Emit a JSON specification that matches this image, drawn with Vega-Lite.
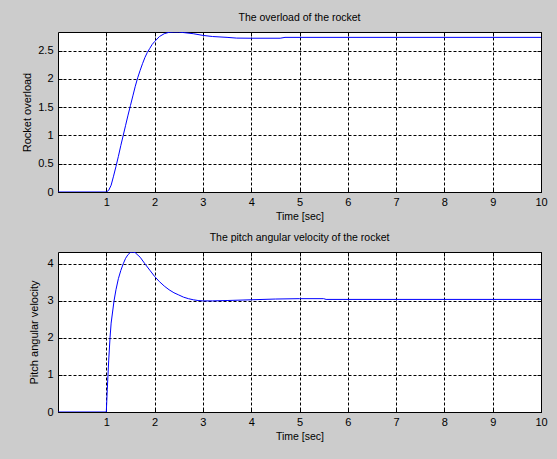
{
  "$schema": "https://vega.github.io/schema/vega-lite/v6.json",
  "background": "#cccccc",
  "padding": {"left": 21, "top": 12, "right": 9, "bottom": 17},
  "bounds": "flush",
  "spacing": 60,
  "datasets": {
    "overload": [
      {"t": 0, "v": 0}, {"t": 1, "v": 0}, {"t": 1.05, "v": 0.03}, {"t": 1.1, "v": 0.12}, {"t": 1.15, "v": 0.28},
      {"t": 1.2, "v": 0.45}, {"t": 1.25, "v": 0.63}, {"t": 1.3, "v": 0.82}, {"t": 1.35, "v": 1.0}, {"t": 1.4, "v": 1.18},
      {"t": 1.45, "v": 1.36}, {"t": 1.5, "v": 1.53}, {"t": 1.55, "v": 1.7}, {"t": 1.6, "v": 1.87}, {"t": 1.65, "v": 2.02},
      {"t": 1.7, "v": 2.15}, {"t": 1.75, "v": 2.27}, {"t": 1.8, "v": 2.38}, {"t": 1.85, "v": 2.47}, {"t": 1.9, "v": 2.54},
      {"t": 1.95, "v": 2.61}, {"t": 2.0, "v": 2.66}, {"t": 2.1, "v": 2.75}, {"t": 2.2, "v": 2.8}, {"t": 2.3, "v": 2.825},
      {"t": 2.4, "v": 2.83}, {"t": 2.5, "v": 2.83}, {"t": 2.6, "v": 2.82}, {"t": 2.8, "v": 2.8}, {"t": 3.0, "v": 2.77},
      {"t": 3.2, "v": 2.75}, {"t": 3.5, "v": 2.735}, {"t": 3.7, "v": 2.722}, {"t": 4.0, "v": 2.72}, {"t": 4.6, "v": 2.72},
      {"t": 4.7, "v": 2.735}, {"t": 10, "v": 2.735}
    ],
    "pitch": [
      {"t": 0, "v": 0}, {"t": 1.0, "v": 0}, {"t": 1.01, "v": 0.3}, {"t": 1.02, "v": 0.6}, {"t": 1.035, "v": 1.0},
      {"t": 1.05, "v": 1.4}, {"t": 1.077, "v": 2.0}, {"t": 1.1, "v": 2.4}, {"t": 1.16, "v": 3.0}, {"t": 1.2, "v": 3.3},
      {"t": 1.25, "v": 3.6}, {"t": 1.3, "v": 3.82}, {"t": 1.35, "v": 4.0}, {"t": 1.4, "v": 4.15}, {"t": 1.45, "v": 4.25},
      {"t": 1.5, "v": 4.31}, {"t": 1.55, "v": 4.32}, {"t": 1.6, "v": 4.3}, {"t": 1.7, "v": 4.18}, {"t": 1.8, "v": 4.0},
      {"t": 1.9, "v": 3.83}, {"t": 2.0, "v": 3.66}, {"t": 2.1, "v": 3.52}, {"t": 2.2, "v": 3.4}, {"t": 2.3, "v": 3.3},
      {"t": 2.4, "v": 3.22}, {"t": 2.5, "v": 3.16}, {"t": 2.6, "v": 3.1}, {"t": 2.7, "v": 3.06}, {"t": 2.8, "v": 3.03},
      {"t": 2.9, "v": 3.01}, {"t": 3.0, "v": 3.0}, {"t": 3.2, "v": 3.0}, {"t": 3.5, "v": 3.01}, {"t": 4.0, "v": 3.03},
      {"t": 4.5, "v": 3.05}, {"t": 5.0, "v": 3.06}, {"t": 5.5, "v": 3.06}, {"t": 5.55, "v": 3.04}, {"t": 10, "v": 3.04}
    ]
  },
  "config": {
    "font": "Liberation Sans",
    "view": {"stroke": "#000000", "strokeWidth": 1, "fill": "#ffffff"},
    "title": {"font": "Liberation Sans", "fontSize": 10.5, "fontWeight": "normal", "color": "#000000", "offset": 8, "anchor": "middle"},
    "axis": {
      "domain": false,
      "grid": true,
      "gridColor": "#000000",
      "gridOpacity": 1,
      "gridWidth": 1,
      "gridDash": [3, 2],
      "ticks": true,
      "tickSize": -4,
      "tickColor": "#000000",
      "labelFont": "Liberation Sans",
      "labelFontSize": 11,
      "labelColor": "#000000",
      "titleFont": "Liberation Sans",
      "titleFontSize": 10.5,
      "titleFontWeight": "normal",
      "titleColor": "#000000",
      "labelFlush": false,
      "labelOverlap": false
    }
  },
  "vconcat": [
    {
      "title": "The overload of the rocket",
      "width": 483,
      "height": 160,
      "data": {"name": "overload"},
      "layer": [
        {
          "mark": {"type": "line", "color": "#0000ff", "strokeWidth": 1, "clip": true},
          "encoding": {
            "x": {"field": "t", "type": "quantitative", "scale": {"domain": [0, 10], "nice": false, "zero": false},
                  "axis": {"orient": "bottom", "values": [1,2,3,4,5,6,7,8,9,10], "title": "Time [sec]", "labelPadding": 8, "titlePadding": 4}},
            "y": {"field": "v", "type": "quantitative", "scale": {"domain": [0, 2.83], "nice": false},
                  "axis": {"orient": "left", "values": [0, 0.5, 1, 1.5, 2, 2.5], "format": "~g", "title": "Rocket overload", "titleFontSize": 11, "labelPadding": 9, "titlePadding": 5}}
          }
        },
        {
          "mark": {"type": "line", "opacity": 0},
          "encoding": {
            "x": {"field": "t", "type": "quantitative", "axis": {"orient": "top", "values": [1,2,3,4,5,6,7,8,9,10], "labels": false, "grid": false, "title": null}},
            "y": {"field": "v", "type": "quantitative", "axis": {"orient": "right", "values": [0, 0.5, 1, 1.5, 2, 2.5], "labels": false, "grid": false, "title": null}}
          }
        }
      ],
      "resolve": {"axis": {"x": "independent", "y": "independent"}}
    },
    {
      "title": "The pitch angular velocity of the rocket",
      "width": 483,
      "height": 160,
      "data": {"name": "pitch"},
      "layer": [
        {
          "mark": {"type": "line", "color": "#0000ff", "strokeWidth": 1, "clip": true},
          "encoding": {
            "x": {"field": "t", "type": "quantitative", "scale": {"domain": [0, 10], "nice": false, "zero": false},
                  "axis": {"orient": "bottom", "values": [1,2,3,4,5,6,7,8,9,10], "title": "Time [sec]", "labelPadding": 8, "titlePadding": 4}},
            "y": {"field": "v", "type": "quantitative", "scale": {"domain": [0, 4.32], "nice": false},
                  "axis": {"orient": "left", "values": [0, 1, 2, 3, 4], "format": "~g", "title": "Pitch angular velocity", "titleFontSize": 11, "labelPadding": 9, "titlePadding": 7}}
          }
        },
        {
          "mark": {"type": "line", "opacity": 0},
          "encoding": {
            "x": {"field": "t", "type": "quantitative", "axis": {"orient": "top", "values": [1,2,3,4,5,6,7,8,9,10], "labels": false, "grid": false, "title": null}},
            "y": {"field": "v", "type": "quantitative", "axis": {"orient": "right", "values": [0, 1, 2, 3, 4], "labels": false, "grid": false, "title": null}}
          }
        }
      ],
      "resolve": {"axis": {"x": "independent", "y": "independent"}}
    }
  ]
}
